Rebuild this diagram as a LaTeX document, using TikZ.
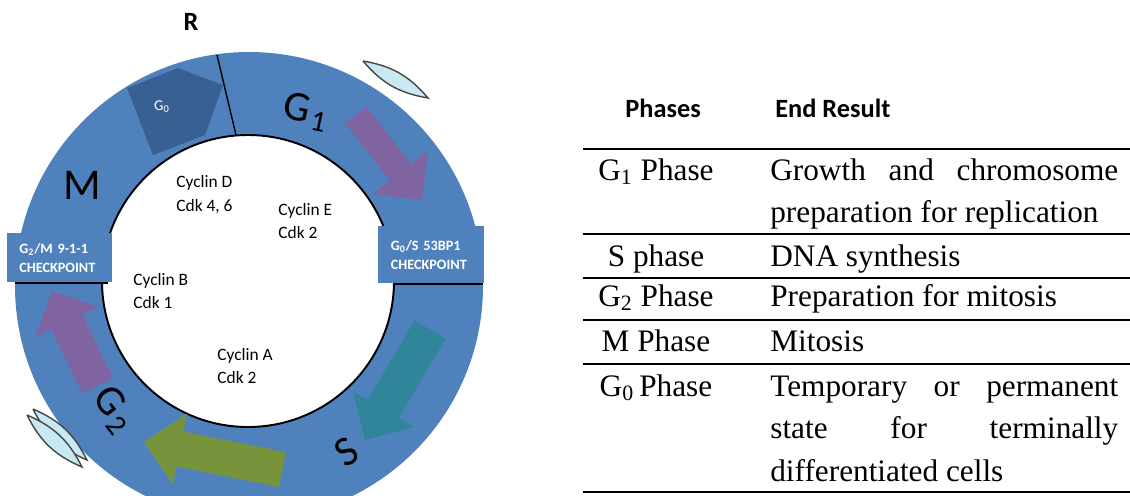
\documentclass[tikz,border=0pt]{standalone}
\usepackage{fontspec}
\setmainfont{Liberation Serif}
\newfontfamily\calibri{Carlito}
\definecolor{ringblue}{RGB}{79,129,189}
\definecolor{gzeroblue}{RGB}{56,96,146}
\definecolor{arrowpurple}{RGB}{128,100,162}
\definecolor{arrowteal}{RGB}{49,133,155}
\definecolor{arrowgreen}{RGB}{119,147,60}
\definecolor{lensfill}{RGB}{200,233,242}
\definecolor{lensdraw}{RGB}{70,70,70}
\begin{document}
\begin{tikzpicture}[x=0.02cm, y=-0.02cm,
    phaselbl/.style={font=\calibri\fontsize{24}{24}\selectfont, inner sep=0},
    cyclin/.style={font=\calibri\fontsize{9.9}{13.6}\selectfont, align=left, anchor=west, inner sep=0},
    chkbox/.style={fill=ringblue, text=white, font=\calibri\bfseries\fontsize{8.1}{10.8}\selectfont,
        align=left, anchor=north west, minimum width=2.1cm, text width=1.62cm, inner xsep=0.24cm},
    lens/.style={fill=lensfill, draw=lensdraw, line width=0.8pt},
    head/.style={font=\calibri\bfseries\fontsize{15}{18}\selectfont, inner sep=0, anchor=base west},
    cell/.style={font=\fontsize{17.8}{24.4}\selectfont, inner sep=0},
    tblline/.style={line width=1.1pt},
]
    \useasboundingbox (0,0) rectangle (1130,495);
    \clip (0,0) rectangle (1130,495);

    % Ring
    \fill[ringblue] (249,286) circle[radius=234];
    \fill[white, draw=black, line width=1.1pt] (248,281) circle[radius=146];

    % G0 pentagon
    \fill[gzeroblue] (127,88) -- (178,68) -- (223,85) -- (205,135) -- (153,155) -- cycle;
    \node[text=white, font=\calibri\fontsize{8.5}{10}\selectfont, inner sep=0] (gzero) at (162,107) {G\textsubscript{0}};

    % Block arrows
    \fill[arrowpurple] (345.3,123.3) -- (389.8,180.7) -- (372.9,193.9) -- (422,200)
        -- (428.2,150.9) -- (411.2,164.1) -- (366.7,106.7) -- cycle;
    \fill[arrowteal] (414.5,320.4) -- (367.8,399.9) -- (352.7,391.0) -- (365,440)
        -- (413.9,427.0) -- (398.8,418.1) -- (445.5,338.6) -- cycle;
    \fill[arrowgreen] (279.0,486.9) -- (176.4,466.5) -- (172.9,484.4) -- (144,442)
        -- (186.9,413.8) -- (183.4,431.7) -- (286,452.1) -- cycle;
    \fill[arrowpurple] (82.0,393.0) -- (51.4,329.5) -- (35.1,337.3) -- (52,291)
        -- (98.7,306.7) -- (82.4,314.5) -- (113,378) -- cycle;

    % Phase labels on the ring
    \node[phaselbl, font=\calibri\fontsize{25}{25}\selectfont] (mlbl) at (82,185) {M};
    \node[phaselbl, rotate=-12] (gonelbl) at (306,112) {G\kern1.5pt\textsubscript{1}};
    \node[phaselbl, rotate=-52] (gtwolbl) at (114,410) {G\kern1.5pt\textsubscript{2}};
    \node[phaselbl, rotate=32] (slbl) at (347,452) {S};

    % Cyclins
    \node[cyclin] (cycd) at (176,195) {Cyclin D\\Cdk 4, 6};
    \node[cyclin] (cyce) at (278,221) {Cyclin E\\Cdk 2};
    \node[cyclin] (cycb) at (133,291) {Cyclin B\\Cdk 1};
    \node[cyclin] (cyca) at (217,366) {Cyclin A\\Cdk 2};

    % Checkpoints
    \node[chkbox, minimum height=0.98cm] (chkgtwo) at (7,233) {G\textsubscript{2}/M 9-1-1\\CHECKPOINT};
    \node[chkbox, minimum height=1.14cm, minimum width=2.12cm] (chkgzero) at (378,226) {G\textsubscript{0}/S 53BP1\\CHECKPOINT};
    \draw[line width=0.8pt] (15,283) -- (108,283);
    \draw[line width=0.8pt] (393,284) -- (483,284);

    % Restriction point
    \node[font=\calibri\bfseries\fontsize{15}{17}\selectfont, inner sep=0] (rlbl) at (191,22) {R};
    \draw[line width=0.8pt] (217,55) -- (236,135);

    % Lenses
    \draw[lens] (363,61) to[bend left=20] (428,98) to[bend left=20] (363,61);
    \draw[lens] (33,409) to[bend left=20] (87,460) to[bend left=20] (33,409);
    \draw[lens] (27,415) to[bend left=20] (82,467) to[bend left=20] (27,415);

    % Table header
    \node[head] (hphase) at (625,117) {Phases};
    \node[head] (hres) at (775,117) {End Result};

    % Table rows
    \foreach \ph/\res/\yb [count=\k] in {
        G\textsubscript{1} Phase/{Growth and chromosome\linebreak preparation for replication}/180,
        S phase/DNA synthesis/266,
        G\textsubscript{2}\ Phase/Preparation for mitosis/306,
        M Phase/Mitosis/351,
        G\textsubscript{0}\,Phase/{Temporary or permanent\linebreak state for terminally\linebreak differentiated cells}/396} {
        \node[cell, anchor=base] (ph\k) at (656,\yb) {\ph};
        \node[cell, anchor=base west, text width=6.96cm, align=justify] (res\k) at (770,\yb) {\res};
    }

    % Rules
    \foreach \yl in {149,234,278,320,364,492} {
        \draw[tblline] (583,\yl) -- (1130,\yl);
    }
\end{tikzpicture}
\end{document}
